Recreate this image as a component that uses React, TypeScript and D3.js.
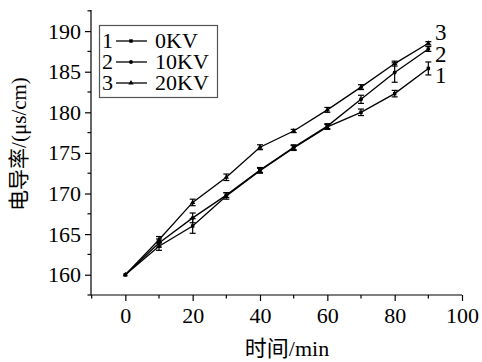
import React, { useEffect, useRef } from 'react';
import * as d3 from 'd3';

const times = [0, 10, 20, 30, 40, 50, 60, 70, 80, 90];
const kv0 = [160, 163.5, 166.0, 169.7, 172.8, 175.6, 178.2, 180.0, 182.3, 185.4];
const kv10 = [160, 163.9, 167.0, 169.8, 172.9, 175.7, 178.3, 181.6, 184.9, 187.8];
const kv20 = [160, 164.3, 168.9, 172.0, 175.7, 177.7, 180.3, 183.1, 186.0, 188.5];
const err0 = [0, 0.5, 0.9, 0.4, 0.3, 0.3, 0.3, 0.4, 0.4, 0.8];
const err10 = [0, 0.5, 0.6, 0.3, 0.3, 0.3, 0.3, 0.5, 1.2, 0.3];
const err20 = [0, 0.4, 0.4, 0.4, 0.3, 0.2, 0.3, 0.3, 0.3, 0.2];
const legendNames = ['0KV', '10KV', '20KV'];
const curveLabels = ['1', '2', '3'];

const FONT = "'Liberation Serif', 'DejaVu Serif', serif";
const CJK = "'Liberation Serif', 'Noto Sans CJK SC', serif";

const App = () => {
  const svgRef = useRef<SVGSVGElement>(null);

  useEffect(() => {
    const width = 482;
    const height = 362;
    const svg = d3.select(svgRef.current);
    svg.selectAll('*').remove();
    svg.attr('width', width).attr('height', height).style('font-family', FONT);

    const left = 91, right = 462, top = 10, bottom = 295;
    const x = d3.scaleLinear().domain([-10.2, 100]).range([left, right]);
    const y = d3.scaleLinear().domain([157.5, 192.6]).range([bottom, top]);

    // axes
    const xAxis = d3.axisBottom(x).tickValues([0, 20, 40, 60, 80, 100]).tickSize(6).tickPadding(6).tickFormat(d3.format('d'));
    const xg = svg.append('g').attr('transform', `translate(0,${bottom})`).call(xAxis);
    xg.select('.domain').attr('d', `M${left},0H${right}`);
    const yAxis = d3.axisLeft(y).tickValues([160, 165, 170, 175, 180, 185, 190]).tickSize(6).tickPadding(4);
    const yg = svg.append('g').attr('transform', `translate(${left},0)`).call(yAxis);
    yg.select('.domain').attr('d', `M0,${top}V${bottom}`);
    [xg, yg].forEach(g => {
      g.attr('font-family', null).attr('font-size', null);
      g.selectAll('text').style('font-family', FONT).style('font-size', '22px').attr('fill', '#000');
      g.selectAll('line, path').attr('stroke', '#000').attr('stroke-width', 1.2);
    });

    // minor ticks
    svg.append('g').selectAll('line')
      .data([-10, 10, 30, 50, 70, 90])
      .enter().append('line')
      .attr('x1', d => x(d)).attr('x2', d => x(d))
      .attr('y1', bottom).attr('y2', bottom + 3.5)
      .attr('stroke', '#000').attr('stroke-width', 1.2);
    svg.append('g').selectAll('line')
      .data([157.5, 162.5, 167.5, 172.5, 177.5, 182.5, 187.5, 192.5])
      .enter().append('line')
      .attr('x1', left).attr('x2', left - 3.5)
      .attr('y1', d => y(d)).attr('y2', d => y(d))
      .attr('stroke', '#000').attr('stroke-width', 1.2);

    const series = [
      { vals: kv0, errs: err0, shape: d3.symbolSquare },
      { vals: kv10, errs: err10, shape: d3.symbolCircle },
      { vals: kv20, errs: err20, shape: d3.symbolTriangle },
    ];

    const line = d3.line<number>().x((_, i) => x(times[i])).y(d => y(d));

    series.forEach(s => {
      const g = svg.append('g');
      g.append('path').datum(s.vals).attr('d', line)
        .attr('fill', 'none').attr('stroke', '#000').attr('stroke-width', 1.3);
      s.vals.forEach((v, i) => {
        const e = s.errs[i];
        const cx = x(times[i]);
        if (e > 0) {
          g.append('line').attr('x1', cx).attr('x2', cx).attr('y1', y(v - e)).attr('y2', y(v + e))
            .attr('stroke', '#000').attr('stroke-width', 1.2);
          [v - e, v + e].forEach(c => {
            g.append('line').attr('x1', cx - 3).attr('x2', cx + 3).attr('y1', y(c)).attr('y2', y(c))
              .attr('stroke', '#000').attr('stroke-width', 1.2);
          });
        }
        g.append('path').attr('d', d3.symbol().type(s.shape).size(12)())
          .attr('transform', `translate(${cx},${y(v)})`).attr('fill', '#000');
      });
    });

    // curve labels at right end
    const labelY = [83, 62, 40];
    curveLabels.forEach((t, i) => {
      svg.append('text').attr('x', 435).attr('y', labelY[i])
        .style('font-family', FONT).style('font-size', '23px').text(t);
    });

    // legend
    const lg = svg.append('g');
    lg.append('rect').attr('x', 99.5).attr('y', 25.5).attr('width', 118).attr('height', 72)
      .attr('fill', 'none').attr('stroke', '#555').attr('stroke-width', 1.2);
    legendNames.forEach((name, i) => {
      const by = 48 + i * 21;
      lg.append('text').attr('x', 102).attr('y', by).style('font-family', FONT).style('font-size', '22px').text(curveLabels[i]);
      lg.append('line').attr('x1', 116).attr('x2', 147).attr('y1', by - 7).attr('y2', by - 7)
        .attr('stroke', '#000').attr('stroke-width', 1.3);
      lg.append('path').attr('d', d3.symbol().type(series[i].shape).size(12)())
        .attr('transform', `translate(131,${by - 7})`).attr('fill', '#000');
      lg.append('text').attr('x', 155).attr('y', by).style('font-family', FONT).style('font-size', '22px').text(name);
    });

    // axis titles
    svg.append('text').attr('x', 287).attr('y', 356).attr('text-anchor', 'middle')
      .style('font-family', CJK).style('font-size', '22px').text('时间/min');
    svg.append('text').attr('transform', `translate(26,144) rotate(-90)`).attr('text-anchor', 'middle')
      .style('font-family', CJK).style('font-size', '21px').text('电导率/(μs/cm)');
  }, []);

  return (
    <div style={{ position: 'absolute', left: 0, top: 0 }}>
      <svg ref={svgRef}></svg>
    </div>
  );
};

export default App;
